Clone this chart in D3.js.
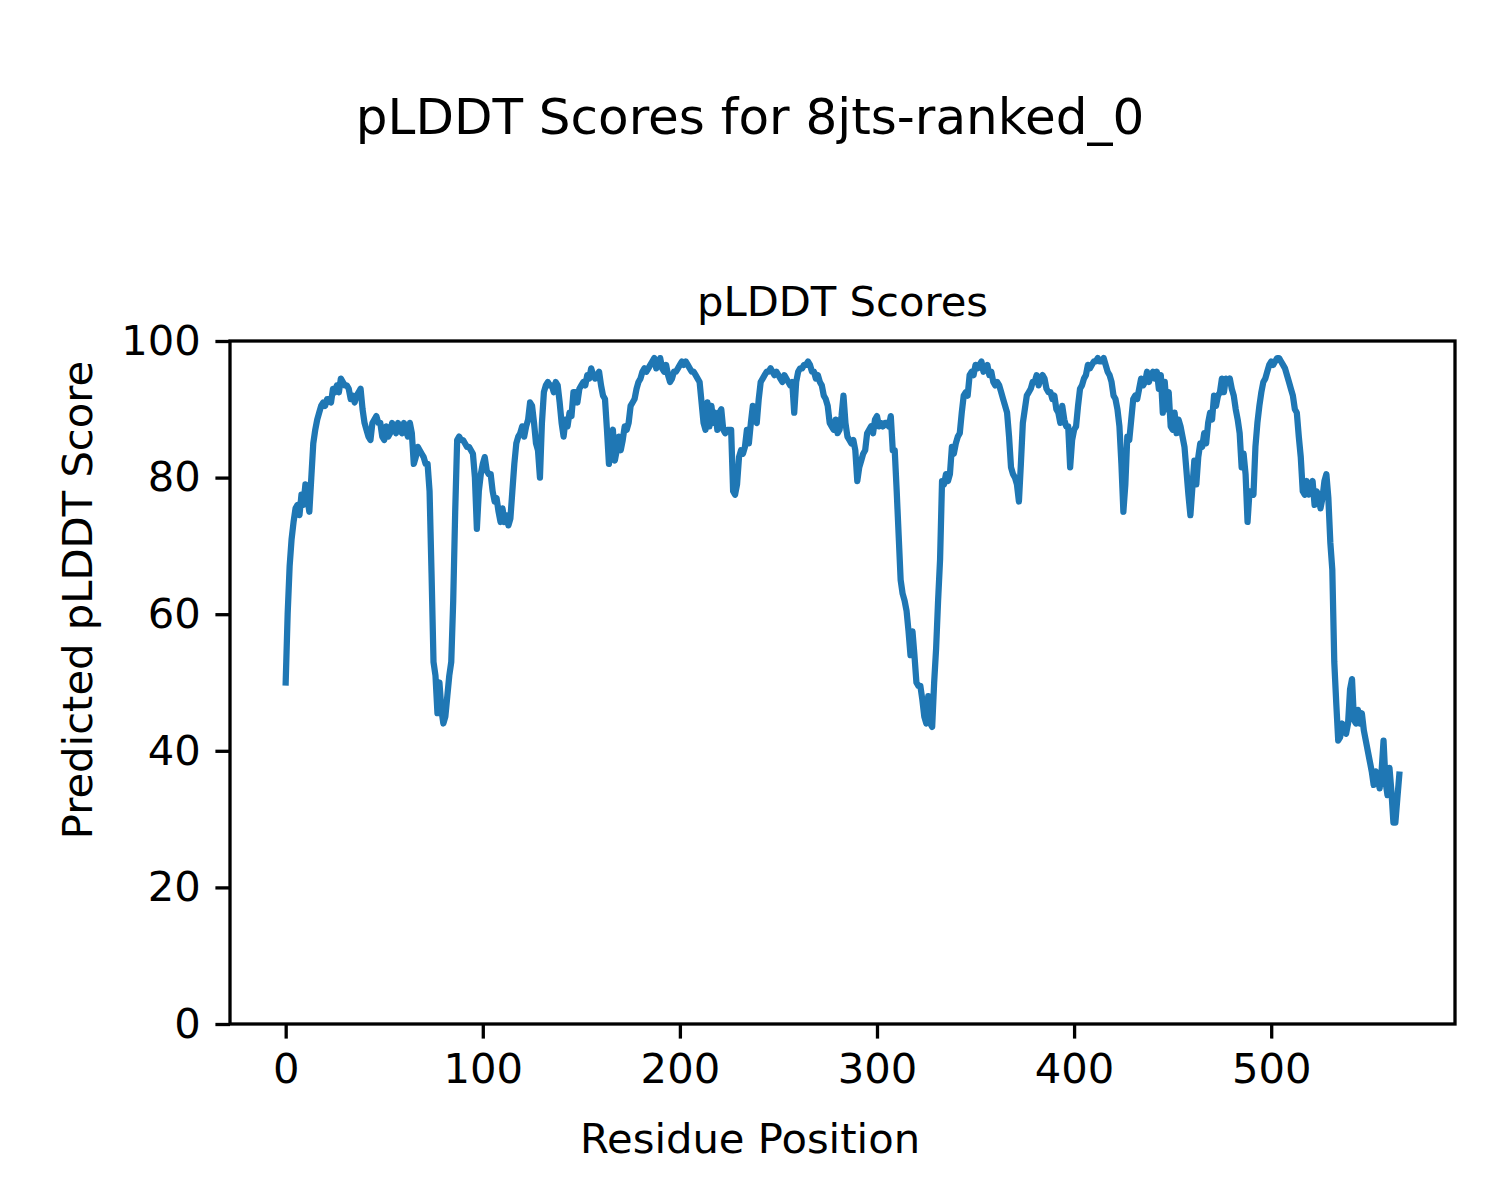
<!DOCTYPE html>
<html>
<head>
<meta charset="utf-8">
<script src="https://cdn.jsdelivr.net/npm/d3@7"></script>
<style>
  body { margin: 0; background: #fff; }
  svg { display: block; }
  text { font-family: "DejaVu Sans", sans-serif; fill: #000; }
</style>
</head>
<body>
<svg id="chart" width="1500" height="1200"></svg>
<script>
const figTitle = "pLDDT Scores for 8jts-ranked_0";
const axTitle = "pLDDT Scores";
const xLabel = "Residue Position";
const yLabel = "Predicted pLDDT Score";
const xTicks = [0, 100, 200, 300, 400, 500];
const yTicks = [0, 20, 40, 60, 80, 100];

// pLDDT per residue (index 0..565)
const scores = [
  50, 60, 67, 71, 73.5, 75.5, 76, 74.5, 77.5, 76,
  79, 77, 75, 80, 85, 87, 88.5, 89.5, 90.5, 91,
  90.5, 91.5, 91.5, 91, 93, 92.5, 93.5, 92.5, 94.5, 94,
  93.5, 93.5, 93, 91.5, 92, 91, 92, 92.5, 93, 90,
  88, 87, 86, 85.5, 88, 88.5, 89, 88, 88, 86,
  85.5, 87.5, 86, 86.5, 88, 87.5, 86.5, 88, 87, 86.5,
  88, 87, 86, 88, 86.5, 82, 83, 84.5, 84, 83.5,
  83, 82, 82, 78, 66, 53, 51, 45.5, 50, 46,
  44, 45, 48, 51, 53, 62, 75, 85.5, 86, 85.5,
  85.5, 85, 84.5, 84.5, 84, 83.5, 80, 72.5, 78, 80.5,
  82, 83, 81, 80.5, 80.5, 78, 76.5, 77, 75, 73.5,
  75.5, 73.5, 74.5, 73, 74, 78, 82, 85, 86, 86.5,
  87.5, 86, 87.5, 88.5, 91, 90.5, 88, 85, 84, 80,
  88, 92.5, 93.5, 94, 93.5, 93.5, 92.5, 94, 93.5, 91,
  88, 86, 88.5, 87.5, 89.5, 89, 92.5, 92.5, 91, 93,
  93.5, 94, 93.5, 95, 94.5, 96, 95, 94.5, 95, 95.5,
  93.5, 92, 91.5, 87, 82, 86, 87, 82.5, 84, 86,
  84, 85.5, 87.5, 87, 88, 90.5, 91, 91.5, 93, 94,
  94.5, 95.5, 96, 95.5, 96, 96.5, 97, 97.5, 96, 96.5,
  97.5, 96, 95.5, 96.5, 95, 94, 94.5, 95.5, 95.5, 96,
  96.5, 97, 96.5, 97, 96.5, 96, 95.5, 95.5, 95, 94.5,
  94, 91, 88, 87, 91, 87.5, 90.5, 88, 89.5, 87,
  89.5, 90, 87, 86.5, 87, 87, 87, 78, 77.5, 79,
  83, 84, 83.5, 84.5, 87, 85, 88, 90.5, 88.5, 88,
  91.5, 94, 94.5, 95, 95.5, 95.5, 96, 95.5, 95, 95.5,
  95, 94.5, 94, 95, 94.5, 94, 93.5, 94, 89.5, 94,
  95.5, 96, 96, 96.5, 96.5, 97, 96.5, 95.5, 95.5, 94.5,
  95, 94, 93.5, 92, 91.5, 90.5, 88, 87.5, 87, 88.5,
  86.5, 87, 89, 92, 88, 86, 85.5, 85, 85.5, 84,
  79.5, 81.5, 82.5, 83.5, 84, 86.5, 87, 87.5, 86.5, 88.5,
  89, 87.5, 88, 87.5, 88, 88, 87.5, 89, 84, 84,
  78, 71.5, 65, 63, 62, 60.5, 57.5, 54, 57.5, 54,
  50, 49.5, 49.5, 47.5, 45, 44, 48, 44, 43.5, 50,
  55, 62, 68, 79.5, 79, 80.5, 79.5, 80.5, 84.5, 83.5,
  85, 86, 86.5, 89.5, 92, 92.5, 92, 95, 95.5, 95,
  96.5, 96, 96.5, 97, 95.5, 96, 96.5, 95, 95.5, 94,
  93.5, 94, 93.5, 92.5, 91.5, 90.5, 89.5, 86, 81.5, 80.5,
  80, 79, 76.5, 82, 88, 90, 92, 92.5, 93, 94,
  94, 95, 93.5, 94.5, 95, 94.5, 93, 92.5, 92.5, 91.5,
  92, 90, 89.5, 88, 90.5, 88.5, 87.5, 87.5, 81.5, 85.5,
  87, 87.5, 90.5, 93, 93.5, 94.5, 95, 96.5, 96, 96.5,
  97, 97, 97.5, 97, 97, 97.5, 96.5, 95.5, 95, 94,
  92, 91.5, 90, 87.5, 82, 75, 79, 86, 85.5, 88.5,
  91.5, 92, 91.5, 93, 94.5, 93.5, 94, 95.5, 94, 95,
  95.5, 94.5, 95.5, 93, 95, 89.5, 94, 90, 92.5, 87.5,
  87, 89.5, 86.5, 88.5, 87.5, 86, 84.5, 81, 77.5, 74.5,
  78.5, 82.5, 79, 83, 85, 84.5, 86.5, 85, 88, 89.5,
  88.5, 92, 90.5, 92, 92.5, 94.5, 92.5, 94.5, 94, 94.5,
  93, 92, 90, 88.5, 86.5, 81.5, 83.5, 80.5, 73.5, 78,
  78, 77.5, 84.5, 88, 90.5, 92.5, 94, 94.5, 95.5, 96.5,
  97, 96.5, 97, 97.5, 97.5, 97, 96.5, 96, 95, 94,
  93, 92, 90, 89.5, 86, 83, 78, 77.5, 79.5, 77.5,
  78, 79.5, 76, 78, 77.5, 75.5, 77, 79.5, 80.5, 77,
  70.5, 66.5, 53, 47, 41.5, 42, 44, 43, 42.5, 44,
  49, 50.5, 44.5, 44, 46, 44, 45.5, 43, 41.5, 40,
  38.5, 37, 35, 37, 36.5, 34.5, 37, 41.5, 35.5, 33.5,
  37.5, 34, 29.5, 29.5, 33, 36.5
];

const svg = d3.select("#chart");
const W = 1500, H = 1200;
const plot = { left: 230, right: 1455, top: 341, bottom: 1024 };

const n = scores.length;
const pad = 0.05 * (n - 1);
const x = d3.scaleLinear().domain([-pad, (n - 1) + pad]).range([plot.left, plot.right]);
const y = d3.scaleLinear().domain([0, 100]).range([plot.bottom, plot.top]);

const tickLen = 14.6, tickW = 3.3, fontTick = 41.7;

// line
const line = d3.line().x((d, i) => x(i)).y(d => y(d));
svg.append("path")
  .datum(scores)
  .attr("d", line)
  .attr("fill", "none")
  .attr("stroke", "#1f77b4")
  .attr("stroke-width", 6.25)
  .attr("stroke-linejoin", "round")
  .attr("stroke-linecap", "square");

// x axis
const xAxis = d3.axisBottom(x).tickValues(xTicks).tickSize(tickLen).tickPadding(14.6).tickFormat(d3.format("d"));
const gx = svg.append("g").attr("transform", `translate(0,${plot.bottom})`).call(xAxis);
gx.select(".domain").remove();
gx.selectAll(".tick line").attr("stroke", "#000").attr("stroke-width", tickW);
gx.selectAll(".tick text").attr("font-size", fontTick).attr("font-family", "DejaVu Sans").attr("fill", "#000");

// y axis
const yAxis = d3.axisLeft(y).tickValues(yTicks).tickSize(tickLen).tickPadding(14.6).tickFormat(d3.format("d"));
const gy = svg.append("g").attr("transform", `translate(${plot.left},0)`).call(yAxis);
gy.select(".domain").remove();
gy.selectAll(".tick line").attr("stroke", "#000").attr("stroke-width", tickW);
gy.selectAll(".tick text").attr("font-size", fontTick).attr("font-family", "DejaVu Sans").attr("fill", "#000");

// frame
svg.append("rect")
  .attr("x", plot.left).attr("y", plot.top)
  .attr("width", plot.right - plot.left).attr("height", plot.bottom - plot.top)
  .attr("fill", "none").attr("stroke", "#000").attr("stroke-width", tickW);

// titles
svg.append("text").attr("x", 750).attr("y", 134)
  .attr("text-anchor", "middle").attr("font-size", 50).text(figTitle);
svg.append("text").attr("x", (plot.left + plot.right) / 2).attr("y", 316)
  .attr("text-anchor", "middle").attr("font-size", fontTick).text(axTitle);
svg.append("text").attr("x", 750).attr("y", 1138)
  .attr("text-anchor", "middle").attr("dominant-baseline", "central")
  .attr("font-size", fontTick).text(xLabel);
svg.append("text").attr("transform", "translate(77,600) rotate(-90)")
  .attr("text-anchor", "middle").attr("dominant-baseline", "central")
  .attr("font-size", fontTick).text(yLabel);
</script>
</body>
</html>
